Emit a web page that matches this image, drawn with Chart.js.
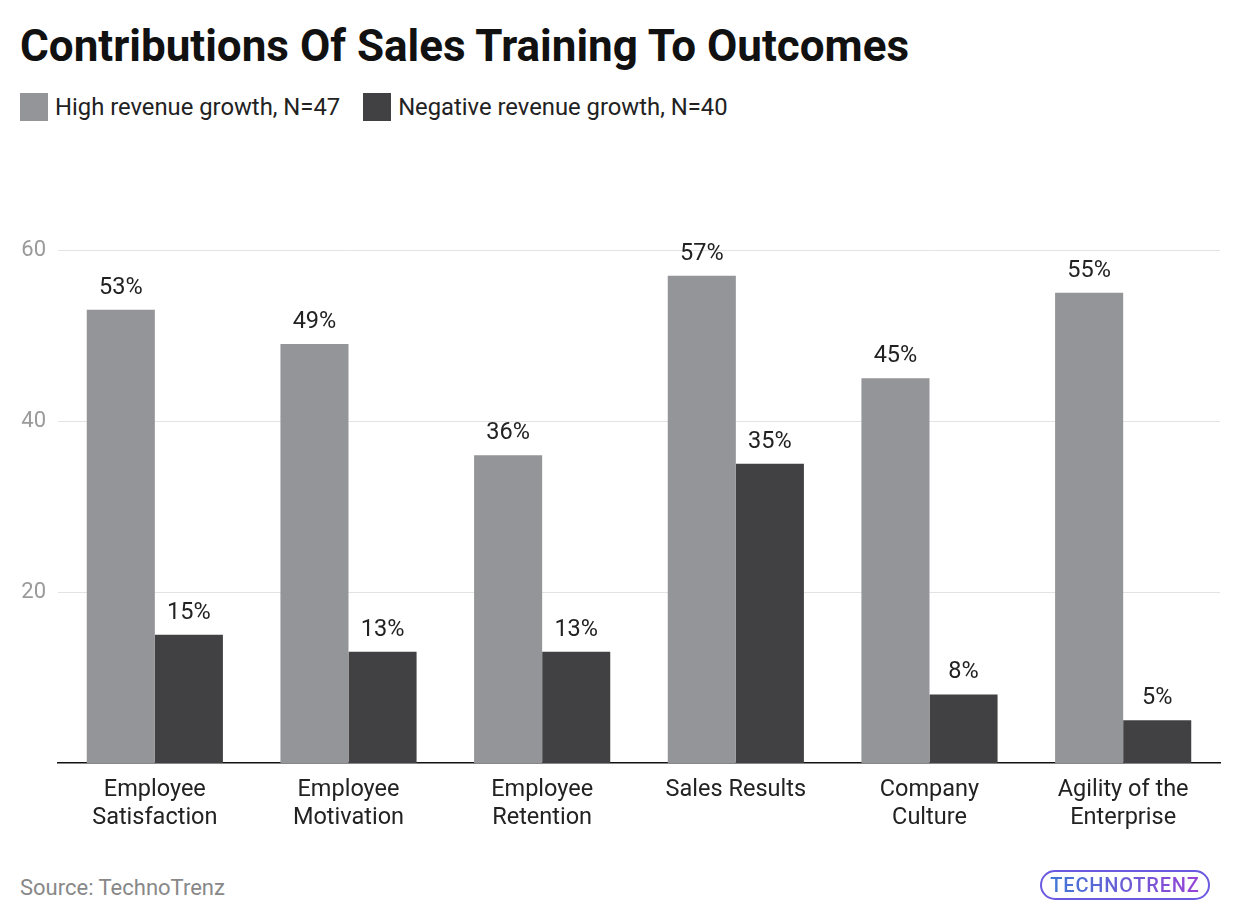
<!DOCTYPE html>
<html><head><meta charset="utf-8">
<script src="https://cdn.jsdelivr.net/npm/chart.js@4.4.1/dist/chart.umd.min.js"></script>
<style>
html,body{margin:0;padding:0;background:#fff;width:1240px;height:924px;overflow:hidden;font-family:Roboto,"Open Sans",sans-serif;}
#title{position:absolute;left:20px;top:19px;font-size:44px;font-weight:700;color:#111;line-height:54px;}
#legend{position:absolute;left:20px;top:92px;font-size:23.8px;color:#222;display:flex;align-items:center;line-height:30px;}
.sw{display:inline-block;width:28px;height:28px;margin-right:7px;}
.it{display:flex;align-items:center;margin-right:23px;}
#wrap{position:absolute;left:1px;top:150px;width:1240px;height:700px;}
#src{position:absolute;left:20px;top:875px;font-size:22px;color:#888;}
#logo{position:absolute;left:1040px;top:870px;width:170px;height:30px;border:2px solid #6a5ae0;border-radius:15px;box-sizing:border-box;display:flex;align-items:center;justify-content:center;font-size:20px;font-weight:500;letter-spacing:0.8px;background:linear-gradient(90deg,#3a7bd5,#9b3fd6);-webkit-background-clip:text;color:transparent;}
</style></head><body>
<div id="title">Contributions Of Sales Training To Outcomes</div>
<div id="legend"></div>
<div id="wrap"><canvas id="c" width="1240" height="700"></canvas></div>
<div id="src">Source: TechnoTrenz</div>
<div id="logo">TECHNOTRENZ</div>
<script>
const categories = [["Employee","Satisfaction"],["Employee","Motivation"],["Employee","Retention"],["Sales Results"],["Company","Culture"],["Agility of the","Enterprise"]];
const seriesNames = ["High revenue growth, N=47","Negative revenue growth, N=40"];
const highGrowth = [53,49,36,57,45,55];
const negativeGrowth = [15,13,13,35,8,5];
const yTicks = [20,40,60];
const colors = ["#949598","#414042"];

const leg = document.getElementById('legend');
seriesNames.forEach((n,i)=>{
  const d=document.createElement('span');d.className='it';
  d.innerHTML='<span class="sw" style="background:'+colors[i]+'"></span>'+n;
  leg.appendChild(d);
});

const labelPlugin = {
  id:'vals',
  afterDatasetsDraw(chart){
    const ctx=chart.ctx;
    ctx.save();
    ctx.font='23.5px Roboto';
    ctx.fillStyle='#222';
    ctx.textAlign='center';
    ctx.textBaseline='middle';
    chart.data.datasets.forEach((ds,di)=>{
      chart.getDatasetMeta(di).data.forEach((bar,i)=>{
        ctx.fillText(ds.data[i]+'%', bar.x, bar.y-22);
      });
    });
    ctx.restore();
  }
};

new Chart(document.getElementById('c'),{
  type:'bar',
  data:{labels:categories,datasets:[
    {label:seriesNames[0],data:highGrowth,backgroundColor:colors[0]},
    {label:seriesNames[1],data:negativeGrowth,backgroundColor:colors[1]}
  ]},
  options:{
    responsive:false,animation:false,
    layout:{padding:{top:100,right:21,bottom:0,left:0}},
    plugins:{legend:{display:false},tooltip:{enabled:false}},
    datasets:{bar:{categoryPercentage:0.703,barPercentage:1}},
    scales:{
      x:{
        grid:{display:false,drawTicks:false},
        border:{display:true,color:'#111',width:1.5},
        ticks:{color:'#222',font:{family:'Roboto',size:23.5,lineHeight:1.19},padding:13,maxRotation:0,autoSkip:false},
        afterFit(s){s.height=87;}
      },
      y:{
        min:0,max:60,
        afterBuildTicks(s){s.ticks=yTicks.map(v=>({value:v}));},
        grid:{color:'#e3e3e3',lineWidth:1,drawTicks:false},
        border:{display:false},
        ticks:{color:'#9a9a9a',font:{family:'Roboto',size:22},padding:12},
        afterFit(s){s.width=57;}
      }
    }
  },
  plugins:[labelPlugin]
});
</script>
</body></html>
